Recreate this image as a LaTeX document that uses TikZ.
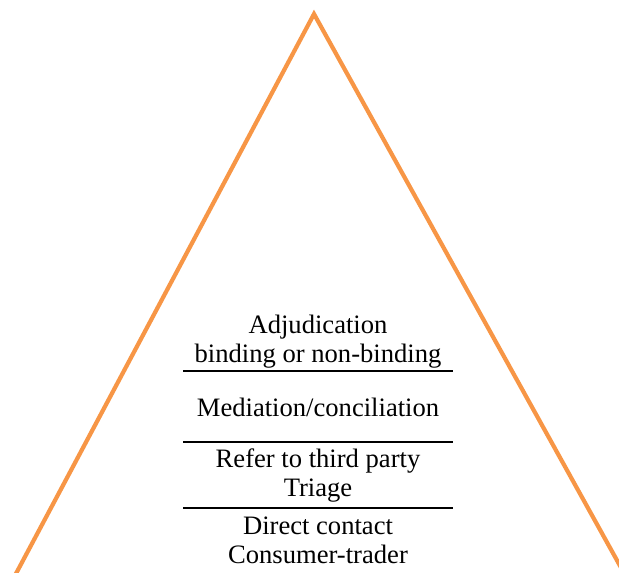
\documentclass[tikz,border=0pt]{standalone}
\usepackage{fontspec}
\setmainfont{Liberation Serif}
\definecolor{pyr}{RGB}{247,150,70}
\begin{document}
\begin{tikzpicture}[x=1pt,y=-1pt,
  lbl/.style={inner sep=0pt,font=\fontsize{26.6}{29}\selectfont,align=center,anchor=center},
  rule/.style={line width=1.6pt,black}]
\useasboundingbox (0,0) rectangle (619,573);
\begin{scope}
\clip (0,0) rectangle (619,573);
\draw[pyr,line width=4.2pt,line join=miter] (11,583) -- (314,14) -- (624,573);
\end{scope}
\node[lbl] (adj) at (318,342) {Adjudication\\binding or non-binding};
\node[lbl] (med) at (318,407) {Mediation/conciliation};
\node[lbl] (ref) at (318,476) {Refer to third party\\Triage};
\node[lbl] (dir) at (318,540) {Direct contact\\Consumer-trader};
\draw[rule] (183,371) -- (453,371);
\draw[rule] (183,442) -- (453,442);
\draw[rule] (183,508) -- (453,508);
\end{tikzpicture}
\end{document}
